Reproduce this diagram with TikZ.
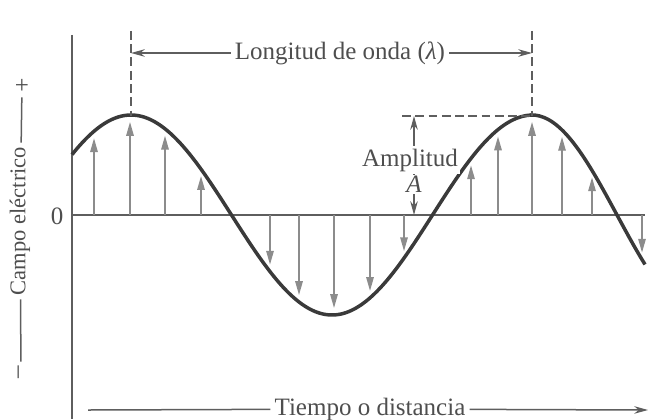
\documentclass[tikz,border=0pt]{standalone}
\usepackage{fontspec}
\setmainfont{Liberation Serif}
\usetikzlibrary{arrows.meta}
\definecolor{wavegray}{HTML}{3A3A3A}
\definecolor{arrowgray}{HTML}{8C8C8C}
\definecolor{axisgray}{HTML}{5E5E5E}
\definecolor{txtgray}{HTML}{4E4E4E}

\begin{document}
\begin{tikzpicture}
[x=0.4pt, y=-0.4pt,
 every node/.style={font=\fontsize{10}{12}\selectfont, text=txtgray, inner sep=1.5pt},
 wave/.style={draw=wavegray, line width=1.4pt},
 field/.style={draw=arrowgray, line width=0.55pt, -{Triangle[length=5.5pt,width=3pt]}},
 axis/.style={draw=axisgray, line width=0.6pt},
 guide/.style={draw=axisgray, line width=0.6pt, dash pattern=on 3.5pt off 1.8pt},
 dim/.style={draw=axisgray, line width=0.6pt, -{Stealth[length=5.5pt,width=3pt]}}]
\useasboundingbox (0,0) rectangle (650,419);

\coordinate (ytop) at (72,35);
\coordinate (ybot) at (72,419);
\coordinate (zl) at (72,215);
\coordinate (zr) at (645,215);
\coordinate (peak1) at (131,116);
\coordinate (peak2) at (532,116);
\coordinate (g1) at (131,31);
\coordinate (g2) at (532,31);
\coordinate (wl1) at (131,53);
\coordinate (wl2) at (532,53);
\coordinate (ampl) at (402,116);
\coordinate (amptop) at (414,116);
\coordinate (ampbot) at (414,215);
\coordinate (xs) at (88,410);
\coordinate (xe) at (648,410);

\draw [axis] (ytop) -- (ybot);
\draw [axis] (zl) -- (zr);
\node (zero) at (57,216) {0};

\foreach \x in {94,130,165,201,270,299,334,370,404,471,498,532,562,592,642} {
  \pgfmathsetmacro\v{\x<=532 ? 100*cos((\x-131)/402*360) : 100*cos((\x-532)/85*90)}
  \pgfmathsetmacro\e{215-\v+7*sign(\v)}
  \draw [field] (\x,215) -- (\x,\e);
}

\draw [wave] plot[domain=72:532, samples=90, smooth] (\x,{215-100*cos((\x-131)/402*360)})
  -- plot[domain=532:645, samples=30, smooth] (\x,{215-100*cos((\x-532)/85*90)});

\draw [guide] (g1) -- (peak1);
\draw [guide] (g2) -- (peak2);
\draw [guide] (ampl) -- (peak2);

\node (lambda) at (340,53) {Longitud de onda (\textit{λ})};
\draw [dim] (lambda) -- (wl1);
\draw [dim] (lambda) -- (wl2);

\draw [dim, {Stealth[length=5.5pt,width=3pt]}-{Stealth[length=5.5pt,width=3pt]}] (amptop) -- (ampbot);
\node (amp) at (410,160) [fill=white, inner sep=1pt] {Amplitud};
\node (ampA) at (414,184) [fill=white, inner sep=0.5pt] {\textit{A}};

\node (campo) at (20,221) [rotate=90, font=\fontsize{9}{11}\selectfont] {Campo eléctrico};
\node (plus) at (22,86) {+};
\node (minus) at (21,372) [rotate=90] {–};
\draw [axis] (minus) -- (campo);
\draw [axis] (campo) -- (plus);

\node (tiempo) at (370,409) {Tiempo o distancia};
\draw [axis] (xs) -- (tiempo);
\draw [dim] (tiempo) -- (xe);
\end{tikzpicture}
\end{document}
